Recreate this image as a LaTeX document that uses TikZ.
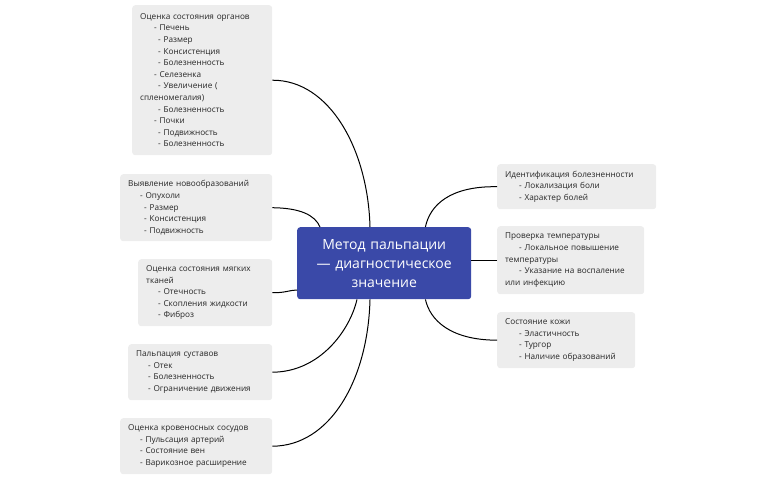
\documentclass[tikz,border=0pt]{standalone}
\usepackage{fontspec}
\setmainfont{Open Sans}
\begin{document}
\begin{tikzpicture}[x=1pt,y=-1pt,
  leaf/.style={draw=none,fill=black!7,rounded corners=3pt,anchor=north west,align=left,
    font=\fontsize{8.2}{11.6}\selectfont,text=black!85,inner xsep=8pt,inner ysep=0pt},
  conn/.style={line width=1pt,black}]
\useasboundingbox (0,0) rectangle (776,480);
\newcommand{\ind}[1]{\hspace*{#1pt}}
\node[draw=none,fill=blue!55!black!80!cyan,fill={rgb,255:red,58;green,73;blue,168},rounded corners=3pt,anchor=north west,minimum width=174pt,minimum height=72pt,text width=160pt,align=center,text=white,font=\fontsize{14}{19}\selectfont,inner sep=0pt] (c) at (297,227) {Метод пальпации\\— диагностическое\\значение};
\node[leaf,minimum width=140pt,minimum height=150pt,text width=124pt] (b1) at (132,5) {Оценка состояния органов\\\ind{14}- Печень\\\ind{18}- Размер\\\ind{18}- Консистенция\\\ind{18}- Болезненность\\\ind{14}- Селезенка\\\ind{18}- Увеличение (\\спленомегалия)\\\ind{18}- Болезненность\\\ind{14}- Почки\\\ind{18}- Подвижность\\\ind{18}- Болезненность};
\node[leaf,minimum width=152pt,minimum height=67pt,text width=136pt] (b2) at (120,174) {Выявление новообразований\\\ind{12}- Опухоли\\\ind{16}- Размер\\\ind{16}- Консистенция\\\ind{16}- Подвижность};
\node[leaf,minimum width=134pt,minimum height=67pt,text width=118pt] (b3) at (138,259) {Оценка состояния мягких\\тканей\\\ind{12}- Отечность\\\ind{12}- Скопления жидкости\\\ind{12}- Фиброз};
\node[leaf,minimum width=144pt,minimum height=56pt,text width=128pt] (b4) at (128,344) {Пальпация суставов\\\ind{12}- Отек\\\ind{12}- Болезненность\\\ind{12}- Ограничение движения};
\node[leaf,minimum width=152pt,minimum height=56pt,text width=136pt] (b5) at (120,418) {Оценка кровеносных сосудов\\\ind{12}- Пульсация артерий\\\ind{12}- Состояние вен\\\ind{12}- Варикозное расширение};
\node[leaf,minimum width=159pt,minimum height=45pt,text width=143pt] (b6) at (497,164) {Идентификация болезненности\\\ind{14}- Локализация боли\\\ind{14}- Характер болей};
\node[leaf,minimum width=147pt,minimum height=68pt,text width=131pt] (b7) at (497,226) {Проверка температуры\\\ind{14}- Локальное повышение\\температуры\\\ind{14}- Указание на воспаление\\или инфекцию};
\node[leaf,minimum width=138pt,minimum height=56pt,text width=122pt] (b8) at (497,312) {Состояние кожи\\\ind{14}- Эластичность\\\ind{14}- Тургор\\\ind{14}- Наличие образований};
\draw[conn] (b1.east) .. controls (330,80) and (368,150) .. ([xshift=73pt]c.north west);
\draw[conn] (b2.east) .. controls (300,208) and (315,215) .. ([xshift=23pt]c.north west);
\draw[conn] (b3.east) .. controls (285,293) and (290,290) .. ([yshift=-63pt]c.north west);
\draw[conn] (b4.east) .. controls (320,372) and (350,330) .. ([xshift=60pt]c.south west);
\draw[conn] (b5.east) .. controls (330,446) and (368,380) .. ([xshift=73pt]c.south west);
\draw[conn] (b6.west) .. controls (450,186) and (430,205) .. ([xshift=-46pt]c.north east);
\draw[conn] (b7.west) -- (c.east|-b7.west);
\draw[conn] (b8.west) .. controls (450,340) and (430,320) .. ([xshift=-46pt]c.south east);
\end{tikzpicture}
\end{document}
